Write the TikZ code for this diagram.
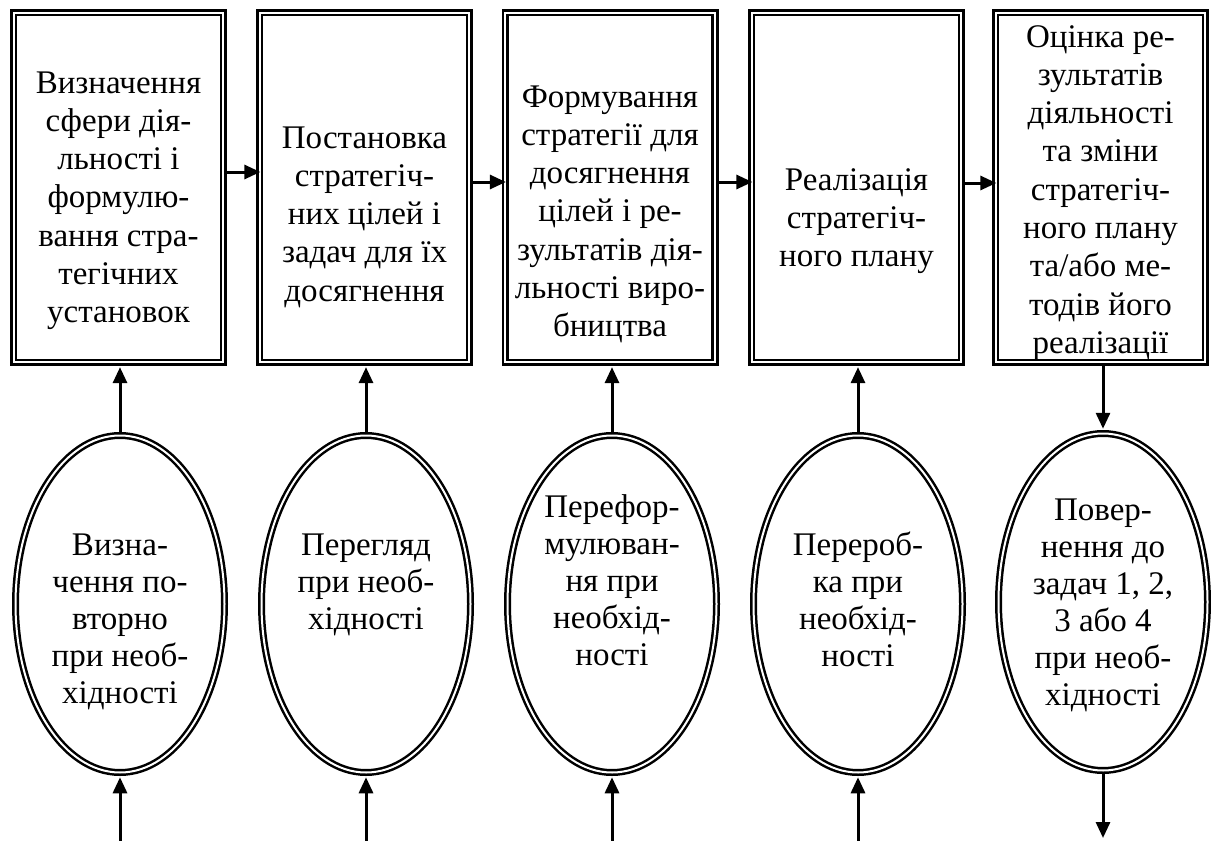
\documentclass[tikz,border=0pt]{standalone}
\usepackage{fontspec}
\setmainfont{Liberation Serif}
\usetikzlibrary{arrows.meta,shapes.geometric}
\begin{document}
\begin{tikzpicture}[x=1pt,y=-1pt,
  frame/.style={draw, line width=2.7pt, double=white, double distance=2pt,
    minimum width=209.6pt, minimum height=349.6pt, inner sep=0pt},
  oval/.style={ellipse, draw, line width=2.5pt, double=white, double distance=2pt,
    minimum width=209pt, minimum height=337pt, inner sep=0pt},
  txt/.style={align=center, inner sep=0pt, anchor=north,
    font=\fontsize{33}{38.3}\selectfont},
  otxt/.style={txt, font=\fontsize{33}{37}\selectfont},
  arr/.style={line width=3pt, -{Triangle[length=16pt,width=14pt]}}]

\fill[white] (0,0) rectangle (1211,841);
\useasboundingbox (0,0) rectangle (1211,841);

% stages
\node[frame] (b1) at (118.5,187.5) {};
\node[frame] (b2) at (364.5,187.5) {};
\node[frame] (b3) at (610,187.5) {};
\node[frame] (b4) at (856.5,187.5) {};
\node[frame] (b5) at (1100.5,187.5) {};

\node[txt] (t1) at (118.5,66) {\strut Визначення\\сфери дія-\\льності і\\формулю-\\вання стра-\\тегічних\\установок};
\node[txt] (t2) at (364.5,121) {\strut Постановка\\стратегіч-\\них цілей і\\задач для їх\\досягнення};
\node[txt] (t3) at (610,80) {\strut Формування\\стратегії для\\досягнення\\цілей і ре-\\зультатів дія-\\льності виро-\\бництва};
\node[txt] (t4) at (856.5,163) {\strut Реалізація\\стратегіч-\\ного плану};
\node[txt] (t5) at (1100.5,20) {\strut Оцінка ре-\\зультатів\\діяльності\\та зміни\\стратегіч-\\ного плану\\та/або ме-\\тодів його\\реалізації};

% feedback ovals
\node[oval] (e1) at (120,604) {};
\node[oval] (e2) at (366,604) {};
\node[oval] (e3) at (612,604) {};
\node[oval] (e4) at (858,604) {};
\node[oval] (e5) at (1103,602) {};

\node[otxt] (s1) at (120,529) {\strut Визна-\\чення по-\\вторно\\при необ-\\хідності};
\node[otxt] (s2) at (366,529) {\strut Перегляд\\при необ-\\хідності};
\node[otxt] (s3) at (612,491) {\strut Перефор-\\мулюван-\\ня при\\необхід-\\ності};
\node[otxt] (s4) at (858,529) {\strut Перероб-\\ка при\\необхід-\\ності};
\node[otxt] (s5) at (1103,494) {\strut Повер-\\нення до\\задач 1, 2,\\3 або 4\\при необ-\\хідності};

% flow between stages
\draw[arr] ([yshift=15.5pt]b1.east) -- ([yshift=15.5pt,xshift=2pt]b2.west);
\draw[arr] ([yshift=5.5pt]b2.east) -- ([yshift=5.5pt,xshift=2pt]b3.west);
\draw[arr] ([yshift=5.5pt]b3.east) -- ([yshift=5.5pt,xshift=2pt]b4.west);
\draw[arr] ([yshift=4.5pt]b4.east) -- ([yshift=4.5pt,xshift=2pt]b5.west);

% ovals to stages
\draw[arr] (e1.north) -- ([yshift=-3.5pt]e1.north |- b1.south);
\draw[arr] (e2.north) -- ([yshift=-3.5pt]e2.north |- b2.south);
\draw[arr] (e3.north) -- ([yshift=-3.5pt]e3.north |- b3.south);
\draw[arr] (e4.north) -- ([yshift=-3.5pt]e4.north |- b4.south);
\draw[arr] (e5.north |- b5.south) -- ([yshift=3.5pt]e5.north);

% incoming and outgoing ends
\coordinate (in1) at (120,841);
\coordinate (in2) at (366,841);
\coordinate (in3) at (612,841);
\coordinate (in4) at (858,841);
\coordinate (out5) at (1103,838);
\draw[arr] (in1) -- ([yshift=-3.5pt]e1.south);
\draw[arr] (in2) -- ([yshift=-3.5pt]e2.south);
\draw[arr] (in3) -- ([yshift=-3.5pt]e3.south);
\draw[arr] (in4) -- ([yshift=-3.5pt]e4.south);
\draw[arr] (e5.south) -- (out5);
\end{tikzpicture}
\end{document}
